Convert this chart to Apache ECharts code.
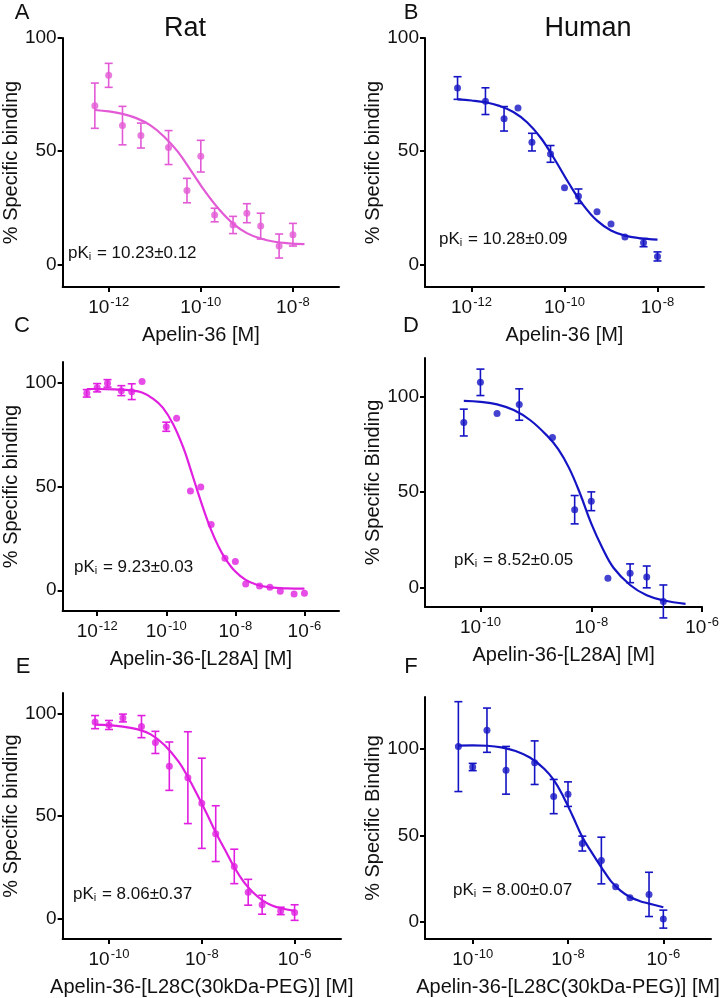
<!DOCTYPE html>
<html><head><meta charset="utf-8">
<script src="https://cdn.jsdelivr.net/npm/echarts@6/dist/echarts.min.js"></script>
<style>html,body{margin:0;padding:0;background:#fff}#c{width:722px;height:998px}</style>
</head><body><div id="c"></div>
<script>
// ---------- DATA (x = log10 concentration [M], y = % specific binding) ----------
// A: Rat, Apelin-36
const ratApelinLogConc = [-12.3,-12.0,-11.7,-11.3,-10.7,-10.3,-10.0,-9.7,-9.3,-9.0,-8.7,-8.3,-8.0];
const ratApelinBinding = [70.1,83.5,61.3,56.9,51.6,32.6,47.8,21.8,17.4,22.6,16.9,8.1,13.1];
const ratApelinSem     = [10,5.3,8.5,5.5,7.5,5.4,7,3,3.8,4.2,5.7,5.3,5];
const ratApelinFitLogConc = [-12.3,-12.0,-11.7,-11.4,-11.1,-10.8,-10.5,-10.2,-9.9,-9.6,-9.3,-9.0,-8.7,-8.4,-8.1,-7.75];
const ratApelinFitBinding = [68.2,67.6,66.5,64.6,61.5,56.5,49.8,41.0,32.0,24.2,18.0,13.8,11.4,10.0,9.3,8.9];

// B: Human, Apelin-36
const humanApelinLogConc = [-12.3,-11.7,-11.3,-11.0,-10.7,-10.3,-10.0,-9.7,-9.3,-9.0,-8.7,-8.3,-8.0];
const humanApelinBinding = [77.9,72.1,64.3,69.1,54.0,48.8,33.8,30.1,23.2,17.8,12.1,9.6,3.5];
const humanApelinSem     = [5,5.9,5.4,0,3.9,3.7,0,3.2,0,0,0,1.8,2];
const humanApelinFitLogConc = [-12.3,-12.0,-11.7,-11.4,-11.1,-10.8,-10.5,-10.2,-9.9,-9.6,-9.3,-9.0,-8.7,-8.4,-8.0];
const humanApelinFitBinding = [72.9,72.4,71.6,70.0,67.3,62.7,55.6,46.0,35.6,26.3,19.3,15.0,12.7,11.6,10.9];

// C: Rat, Apelin-36-[L28A]
const ratL28ALogConc = [-12.3,-12.0,-11.7,-11.3,-11.0,-10.7,-10.0,-9.7,-9.3,-9.0,-8.7,-8.3,-8.0,-7.7,-7.3,-7.0,-6.7,-6.3,-6.0];
const ratL28ABinding = [94.9,97.6,99.7,96.2,95.7,100.6,78.8,82.9,47.8,49.7,31.7,15.4,13.8,3.0,2.1,1.4,-0.5,-1.8,-1.4];
const ratL28ASem     = [1.8,2,1.8,2.4,3.8,0,2.2,0,0,0,0,0,0,0,0,0,0,0,0];
const ratL28AFitLogConc = [-12.3,-12.0,-11.5,-11.0,-10.7,-10.4,-10.1,-9.8,-9.5,-9.3,-9.1,-8.9,-8.7,-8.5,-8.3,-8.0,-7.7,-7.4,-7.0,-6.5,-6.0];
const ratL28AFitBinding = [97.0,97.0,96.8,96.3,95.3,92.5,88.0,80.0,68.5,58.5,48.0,38.0,29.0,21.5,15.5,9.0,5.0,2.8,1.4,0.9,0.8];

// D: Human, Apelin-36-[L28A]
const humanL28ALogConc = [-10.3,-10.0,-9.7,-9.3,-8.7,-8.3,-8.0,-7.7,-7.3,-7.0,-6.7];
const humanL28ABinding = [86.3,107.3,91.0,95.7,78.5,40.8,45.2,5.0,7.6,5.7,-7.1];
const humanL28ASem     = [7,6.9,0,8.2,0,7.4,4.9,0,4.9,5.7,8.6];
const humanL28AFitLogConc = [-10.3,-10.0,-9.7,-9.4,-9.1,-8.8,-8.6,-8.4,-8.2,-8.0,-7.8,-7.6,-7.3,-7.0,-6.7,-6.3];
const humanL28AFitBinding = [97.6,97.1,95.8,92.8,87.5,79.5,72.5,62.5,49.0,33.5,20.8,10.5,1.5,-3.9,-6.5,-8.4];

// E: Rat, Apelin-36-[L28C(30kDa-PEG)]
const ratPegLogConc = [-10.3,-10.0,-9.7,-9.3,-9.0,-8.7,-8.3,-8.0,-7.7,-7.3,-7.0,-6.7,-6.3,-6.0];
const ratPegBinding = [95.8,94.4,97.8,93.6,85.9,74.3,68.7,56.2,41.4,25.4,12.8,6.7,3.7,2.9];
const ratPegSem     = [3.2,2.2,1.9,5.4,5.4,11.8,22.4,22.0,13.6,8.4,6.3,4.6,1.8,3.8];
const ratPegFitLogConc = [-10.3,-10.0,-9.7,-9.4,-9.1,-8.8,-8.5,-8.3,-8.1,-7.9,-7.7,-7.5,-7.3,-7.1,-6.9,-6.7,-6.5,-6.3,-6.0];
const ratPegFitBinding = [94.6,94.3,93.6,92.4,89.8,84.5,76.5,69.0,60.5,51.5,42.0,33.5,25.0,18.0,12.8,9.0,6.5,5.0,3.7];

// F: Human, Apelin-36-[L28C(30kDa-PEG)]
const humanPegLogConc = [-10.3,-10.0,-9.7,-9.3,-8.7,-8.3,-8.0,-7.7,-7.3,-7.0,-6.7,-6.3,-6.0];
const humanPegBinding = [101.3,89.5,110.8,87.6,92.0,72.4,73.8,45.2,35.4,20.2,13.9,15.8,1.5];
const humanPegSem     = [26,2.1,12.8,13.8,12.6,9.9,7.1,4.3,13.5,0,0,12.8,5.2];
const humanPegFitLogConc = [-10.3,-10.0,-9.7,-9.4,-9.1,-8.8,-8.5,-8.3,-8.1,-7.9,-7.7,-7.5,-7.3,-7.1,-6.9,-6.7,-6.5,-6.3,-6.0];
const humanPegFitBinding = [101.9,102.0,101.8,100.9,98.8,95.0,88.5,82.0,72.5,61.0,49.0,40.0,31.5,23.5,18.0,14.3,12.0,10.5,8.4];

// tick values (exponents) and labels
const xTicksAB = [-12,-10,-8];
const xTicksC  = [-12,-10,-8,-6];
const xTicksDEF = [-10,-8,-6];
const yTicks = [0,50,100];

const pkiLabels = ['10.23±0.12','10.28±0.09','9.23±0.03','8.52±0.05','8.06±0.37','8.00±0.07'];
const xNames = ['Apelin-36 [M]','Apelin-36 [M]','Apelin-36-[L28A] [M]','Apelin-36-[L28A] [M]','Apelin-36-[L28C(30kDa-PEG)] [M]','Apelin-36-[L28C(30kDa-PEG)] [M]'];
const yNames = ['% Specific binding','% Specific binding','% Specific binding','% Specific Binding','% Specific binding','% Specific Binding'];
const panelLetters = ['A','B','C','D','E','F'];

// ---------- BUILD ----------
const FONT = '"Liberation Sans", Arial, Helvetica, sans-serif';
const PINK = '#e35ad6', MAG = '#e01fe0', BLUE = '#1414c4';

const panels = [
  {x: ratApelinLogConc, y: ratApelinBinding, e: ratApelinSem, fx: ratApelinFitLogConc, fy: ratApelinFitBinding,
   color: PINK, grid: {left:60, top:38, width:279, height:249}, xr:[-13,-7], yr:[-10,100], xt: xTicksAB,
   pk:[68,256], letter:[22,13]},
  {x: humanApelinLogConc, y: humanApelinBinding, e: humanApelinSem, fx: humanApelinFitLogConc, fy: humanApelinFitBinding,
   color: BLUE, grid: {left:425, top:38, width:279, height:249}, xr:[-13,-7], yr:[-10,100], xt: xTicksAB,
   pk:[439,242], letter:[411,13]},
  {x: ratL28ALogConc, y: ratL28ABinding, e: ratL28ASem, fx: ratL28AFitLogConc, fy: ratL28AFitBinding,
   color: MAG, grid: {left:60, top:362, width:279, height:249}, xr:[-13,-5], yr:[-10,110], xt: xTicksC,
   pk:[74,570], letter:[22,326]},
  {x: humanL28ALogConc, y: humanL28ABinding, e: humanL28ASem, fx: humanL28AFitLogConc, fy: humanL28AFitBinding,
   color: BLUE, grid: {left:425, top:358, width:279, height:249}, xr:[-11,-6], yr:[-10,120], xt: xTicksDEF,
   pk:[454,563], letter:[411,326]},
  {x: ratPegLogConc, y: ratPegBinding, e: ratPegSem, fx: ratPegFitLogConc, fy: ratPegFitBinding,
   color: MAG, grid: {left:62, top:693, width:279, height:250}, xr:[-11,-5], yr:[-10,110], xt: xTicksDEF,
   pk:[73,897], letter:[23,667]},
  {x: humanPegLogConc, y: humanPegBinding, e: humanPegSem, fx: humanPegFitLogConc, fy: humanPegFitBinding,
   color: BLUE, grid: {left:425, top:697, width:286, height:246}, xr:[-11,-5], yr:[-10,130], xt: xTicksDEF,
   pk:[453,893], letter:[411,667]}
];

const grids = [], xAxes = [], yAxes = [], series = [], graphics = [];

panels.forEach((p, i) => {
  grids.push(p.grid);
  xAxes.push({
    type: 'value', gridIndex: i, min: p.xr[0], max: p.xr[1],
    name: xNames[i], nameLocation: 'middle', nameGap: 38,
    nameTextStyle: {fontFamily: FONT, fontSize: 20, color: '#111'},
    axisLine: {onZero: false, lineStyle: {color: '#000', width: 2}},
    axisTick: {show: true, length: 5, lineStyle: {color: '#000', width: 2}, customValues: p.xt},
    axisLabel: {
      customValues: p.xt, margin: 9, color: '#111', fontFamily: FONT, fontSize: 19,
      formatter: v => '{b|10}{s|' + v + '}',
      rich: {b: {fontSize: 19, fontFamily: FONT, color: '#111'},
             s: {fontSize: 13, fontFamily: FONT, color: '#111', verticalAlign: 'top', padding: [0,0,10,1]}}
    },
    splitLine: {show: false}
  });
  yAxes.push({
    type: 'value', gridIndex: i, min: p.yr[0], max: p.yr[1],
    name: yNames[i], nameLocation: 'middle', nameGap: 40, nameRotate: 90,
    nameTextStyle: {fontFamily: FONT, fontSize: 20, color: '#111'},
    axisLine: {onZero: false, lineStyle: {color: '#000', width: 2}},
    axisTick: {show: true, length: 5, lineStyle: {color: '#000', width: 2}, customValues: yTicks},
    axisLabel: {customValues: yTicks, margin: 6, fontSize: 19, fontFamily: FONT, color: '#111'},
    splitLine: {show: false}
  });
  const col = p.color;
  series.push({
    type: 'line', xAxisIndex: i, yAxisIndex: i, smooth: 0.4, showSymbol: false, silent: true,
    lineStyle: {color: col, width: 2.2}, z: 2,
    data: p.fx.map((v, k) => [v, p.fy[k]])
  });
  series.push({
    type: 'custom', xAxisIndex: i, yAxisIndex: i, z: 3, silent: true,
    data: p.x.map((v, k) => [v, p.y[k], p.e[k]]),
    encode: {x: 0, y: 1},
    renderItem: (params, api) => {
      const xv = api.value(0), yv = api.value(1), ev = api.value(2);
      if (!ev) return {type: 'group', children: []};
      const hi = api.coord([xv, yv + ev]), lo = api.coord([xv, yv - ev]);
      const w = 4, st = {stroke: col, lineWidth: 1.6};
      return {type: 'group', children: [
        {type: 'line', shape: {x1: hi[0], y1: hi[1], x2: lo[0], y2: lo[1]}, style: st},
        {type: 'line', shape: {x1: hi[0]-w, y1: hi[1], x2: hi[0]+w, y2: hi[1]}, style: st},
        {type: 'line', shape: {x1: lo[0]-w, y1: lo[1], x2: lo[0]+w, y2: lo[1]}, style: st}
      ]};
    }
  });
  series.push({
    type: 'scatter', xAxisIndex: i, yAxisIndex: i, symbol: 'circle', symbolSize: 7, z: 4, silent: true,
    itemStyle: {color: col},
    data: p.x.map((v, k) => [v, p.y[k]])
  });
  graphics.push({
    type: 'text', left: p.pk[0], top: p.pk[1] - 11,
    style: {text: '{n|pK}{s|i}{n| = ' + pkiLabels[i] + '}',
      rich: {n: {fontSize: 17, fontFamily: FONT, fill: '#111'},
             s: {fontSize: 11, fontFamily: FONT, fill: '#111', verticalAlign: 'bottom', padding: [6,1,0,0]}}}
  });
  graphics.push({
    type: 'text', x: p.letter[0], y: p.letter[1],
    style: {text: panelLetters[i], font: '22px ' + FONT, fill: '#111', align: 'center', verticalAlign: 'middle'}
  });
});

graphics.push({type: 'text', x: 185, y: 29, style: {text: 'Rat', font: '27px ' + FONT, fill: '#111', align: 'center', verticalAlign: 'middle'}});
graphics.push({type: 'text', x: 588, y: 29, style: {text: 'Human', font: '27px ' + FONT, fill: '#111', align: 'center', verticalAlign: 'middle'}});

const chart = echarts.init(document.getElementById('c'), null, {renderer: 'canvas'});
chart.setOption({
  backgroundColor: '#fff',
  animation: false,
  grid: grids, xAxis: xAxes, yAxis: yAxes, series: series, graphic: graphics
});
</script></body></html>
